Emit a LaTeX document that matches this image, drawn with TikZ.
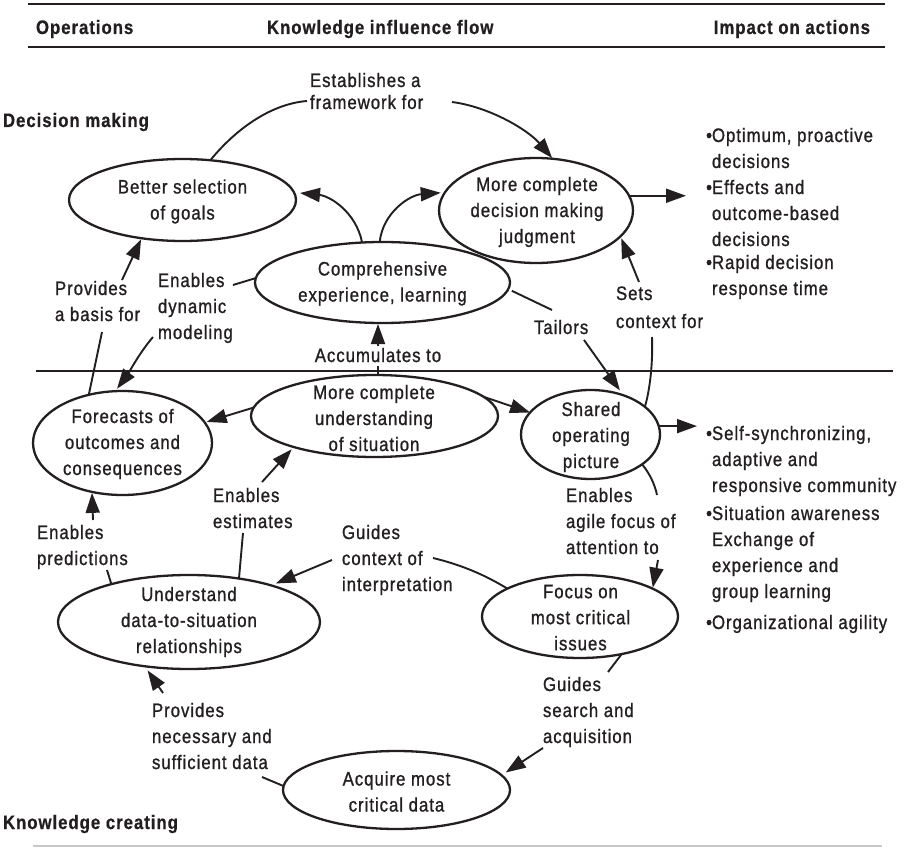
\documentclass[tikz,border=0pt]{standalone}
\usepackage{fontspec}
\setmainfont{Liberation Sans}[FakeStretch=0.86,LetterSpace=5,UprightFeatures={FakeBold=1.0},BoldFeatures={FakeBold=0.6}]
\usetikzlibrary{shapes.geometric,arrows.meta}
\definecolor{ink}{RGB}{35,31,32}
\definecolor{rulegray}{RGB}{200,200,200}
\newcommand{\txtsize}{\fontsize{19.5}{26}\selectfont}
\newcommand{\lbltext}[1]{\begin{tabular}[t]{@{}l@{}}#1\end{tabular}}
\newcommand{\ovaltext}[1]{\begin{tabular}{@{}c@{}}#1\end{tabular}}

\begin{document}
\begin{tikzpicture}[x=1pt,y=-1pt,
  every node/.style={font=\txtsize, text=ink, inner sep=0pt, outer sep=0pt},
  oval/.style={shape=ellipse, draw=ink, line width=2.3pt},
  lbl/.style={anchor=base west},
  head/.style={anchor=base west, font=\txtsize\bfseries},
  link/.style={draw=ink, line width=1.9pt},
  arr/.style={link, -{Triangle[length=20pt,width=14pt]}, shorten >=1pt}]

\fill[white] (0,0) rectangle (908,848);
\useasboundingbox (0,0) rectangle (908,848);

% ---- header band ----
\draw[ink, line width=2.6pt] (28,4) -- (885,4);
\draw[ink, line width=2.2pt] (28,47) -- (885,47);
\node[head] (h-ops) at (36,34) {Operations};
\node[head] (h-flow) at (267,34) {Knowledge influence flow};
\node[head, anchor=base east] (h-impact) at (870,34) {Impact on actions};

% ---- section names and separators ----
\node[head] (s-dec) at (3,127) {Decision making};
\node[head] (s-know) at (3,829) {Knowledge creating};
\draw[ink, line width=1.7pt] (36,371) -- (893,371);
\draw[rulegray, line width=1.5pt] (33,846) -- (882,846);

% ---- ovals ----
\node[oval, minimum width=227pt, minimum height=82pt] (bsg) at (182.5,200) {};
\node (bsg-t) at (182.5,201.3) {\ovaltext{Better selection\\of goals}};
\node[oval, minimum width=194pt, minimum height=105pt] (mcd) at (536,210.5) {};
\node (mcd-t) at (537,211.8) {\ovaltext{More complete\\decision making\\judgment}};
\node[oval, minimum width=255pt, minimum height=81pt] (cel) at (382.5,282.5) {};
\node (cel-t) at (382.5,283.3) {\ovaltext{Comprehensive\\experience, learning}};
\node[oval, minimum width=179pt, minimum height=104pt] (foc) at (122.5,443) {};
\node (foc-t) at (122.5,443.8) {\ovaltext{Forecasts of\\outcomes and\\consequences}};
\node[oval, minimum width=247pt, minimum height=82pt] (mcu) at (374.5,416) {};
\node (mcu-t) at (374,419.8) {\ovaltext{More complete\\understanding\\of situation}};
\node[oval, minimum width=139pt, minimum height=89pt] (sop) at (590.5,434.5) {};
\node (sop-t) at (591,436.8) {\ovaltext{Shared\\operating\\picture}};
\node[oval, minimum width=262pt, minimum height=94pt] (uds) at (189,622) {};
\node (uds-t) at (189,621.8) {\ovaltext{Understand\\data-to-situation\\relationships}};
\node[oval, minimum width=196pt, minimum height=83pt] (fmc) at (580,616.5) {};
\node (fmc-t) at (580.5,619) {\ovaltext{Focus on\\most critical\\issues}};
\node[oval, minimum width=227pt, minimum height=78pt] (amc) at (396.5,790) {};
\node (amc-t) at (396.5,793.3) {\ovaltext{Acquire most\\critical data}};

% ---- connector labels ----
\node[lbl] (est) at (310,87) {\lbltext{Establishes a\\[-4pt]framework for}};
\node[lbl] (prov) at (55,295) {\lbltext{Provides\\a basis for}};
\node[lbl] (edm) at (158,287) {\lbltext{Enables\\dynamic\\modeling}};
\node[anchor=base] (acc) at (378,362) {Accumulates to};
\node[lbl] (tail) at (534,334) {\lbltext{Tailors}};
\node[lbl] (sets) at (616,300) {\lbltext{Sets\\[2pt]context for}};
\node[lbl] (est2) at (213,502) {\lbltext{Enables\\estimates}};
\node[lbl] (pred) at (37,539) {\lbltext{Enables\\predictions}};
\node[lbl] (gci) at (342,539) {\lbltext{Guides\\context of\\interpretation}};
\node[lbl] (agile) at (566,502) {\lbltext{Enables\\agile focus of\\attention to}};
\node[lbl] (pnd) at (152,717) {\lbltext{Provides\\necessary and\\sufficient data}};
\node[lbl] (gsa) at (543,691) {\lbltext{Guides\\search and\\acquisition}};

% ---- impact lists ----
\node[lbl] (imp-a1) at (712,142) {\lbltext{\llap{•}Optimum, proactive\\decisions}};
\node[lbl] (imp-a2) at (712,194) {\lbltext{\llap{•}Effects and\\outcome-based\\decisions}};
\node[lbl] (imp-a3) at (712,269) {\lbltext{\llap{•}Rapid decision\\response time}};
\node[lbl] (imp-b1) at (712,440) {\lbltext{\llap{•}Self-synchronizing,\\adaptive and\\responsive community}};
\node[lbl] (imp-b2) at (712,520) {\lbltext{\llap{•}Situation awareness\\Exchange of\\experience and\\group learning}};
\node[lbl] (imp-b3) at (712,629) {\lbltext{\llap{•}Organizational agility}};
\coordinate (mcdout) at (686,196);
\coordinate (sopout) at (697,426);

% ---- decision making loop ----
\draw[link] (bsg.55) .. controls (235,130) and (270,104) .. ([shift={(-3,14)}]est.base west);
\draw[arr] ([shift={(142,15)}]est.base west) .. controls (490,107) and (528,130) .. (mcd.72);
\draw[arr, shorten >=0pt] (mcd.9) -- (mcd.9 -| mcdout);
\draw[arr, shorten >=0pt] (cel.117) .. controls (356,212) and (330,196) .. ([shift={(4,-7)}]bsg.east);
\draw[arr, shorten >=0pt] (cel.94) .. controls (383,212) and (410,195) .. ([xshift=-4pt]mcd.169);
\draw[arr] ([shift={(67,-15)}]prov.base west) -- (bsg.223);
\draw[link] ([shift={(47,37)}]prov.base west) -- (foc.125);
\draw[link] (cel.178) -- ([shift={(75,-2)}]edm.base west);
\draw[arr, shorten >=3pt] ([shift={(-5,50)}]edm.base west) .. controls (140,352) and (128,374) .. (foc.98);
\draw[arr] ([yshift=2pt]acc.north) -- (acc.north |- cel.south);
\draw[link] (acc.south |- mcu.north) -- ([yshift=-4pt]acc.south);
\draw[link, shorten <=4pt] (cel.-3) -- ([shift={(18,-24)}]tail.base west);
\draw[arr, shorten >=6pt] ([shift={(50,6)}]tail.base west) -- (sop.50);
\draw[link] (sop.27) .. controls (650,390) and (653,362) .. ([shift={(36,37)}]sets.base west);
\draw[arr, shorten >=2pt] ([shift={(23,-18)}]sets.base west) -- (mcd.-17);

% ---- knowledge creating loop ----
\draw[arr, shorten >=2pt] (mcu.176) -- (foc.14);
\draw[arr, shorten >=0pt] (mcu.10) -- (sop.160);
\draw[arr, shorten >=0pt] (sop.7) -- (sop.7 -| sopout);
\draw[link] (sop.-30) .. controls (650,474) and (655,485) .. ([shift={(91,-7)}]agile.base west);
\draw[arr] ([shift={(92,58)}]agile.base west) -- (fmc.21);
\draw[link] ([shift={(91,19)}]gci.base west) .. controls (462,565) and (485,575) .. (fmc.159);
\draw[arr, shorten >=5pt] ([shift={(-10,21)}]gci.base west) -- (uds.24);
\draw[link] (uds.41) -- ([shift={(30,31)}]est2.base west);
\draw[arr, shorten >=3pt] ([shift={(49,-20)}]est2.base west) -- (mcu.201);
\draw[link] ([shift={(70,31)}]pred.base west) -- (uds.154);
\draw[arr] ([shift={(56,-19)}]pred.base west) -- (foc.238);
\draw[link] ([shift={(110,60)}]pnd.base west) -- (amc.178);
\draw[arr, shorten >=5pt] ([shift={(11,-24)}]pnd.base west) -- (uds.225);
\draw[link] (fmc.-42) -- ([shift={(65,-19)}]gsa.base west);
\draw[arr, shorten >=5pt] ([shift={(0,57)}]gsa.base west) -- (amc.8);

\end{tikzpicture}
\end{document}
